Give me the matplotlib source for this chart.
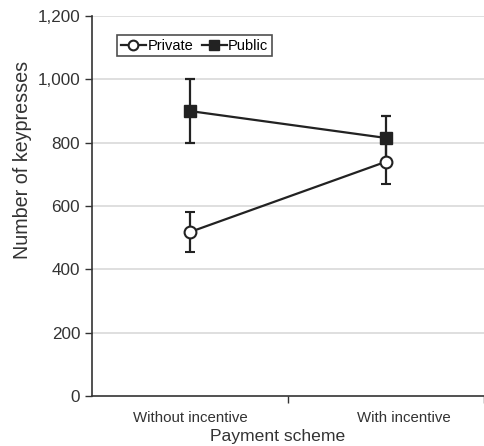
import matplotlib
matplotlib.use("Agg")
import matplotlib.pyplot as plt
from matplotlib.lines import Line2D
from matplotlib.ticker import FuncFormatter, FixedLocator, NullFormatter

plt.rcParams['font.family'] = ['Liberation Sans', 'DejaVu Sans']

schemes = ["Without incentive", "With incentive"]
private_mean = [518, 740]
private_err = [63, 70]
public_mean = [900, 815]
public_err = [100, 70]

xpos = [0.5, 1.5]
label_pos = [0.5, 1.59]
ink = '#222222'

fig = plt.figure(figsize=(4.84, 4.46), dpi=100)
ax = fig.add_axes([0.19, 0.112, 0.81, 0.852])

for y in range(200, 1400, 200):
    ax.axhline(y, color='#d9d9d9', lw=1.2, zorder=0)

ax.errorbar(xpos, public_mean, yerr=public_err, color=ink, lw=1.6,
            marker='s', ms=8.5, mfc=ink, mec=ink, capsize=3.5,
            capthick=1.6, zorder=3)
ax.errorbar(xpos, private_mean, yerr=private_err, color=ink, lw=1.6,
            marker='o', ms=8.5, mfc='white', mec=ink, mew=1.5,
            capsize=3.5, capthick=1.6, zorder=4)

ax.set_xlim(0, 2)
ax.set_ylim(0, 1200)
ax.set_yticks(range(0, 1400, 200))
ax.yaxis.set_major_formatter(FuncFormatter(lambda v, p: f"{int(v):,}"))

ax.xaxis.set_major_locator(FixedLocator([1, 2]))
ax.xaxis.set_major_formatter(NullFormatter())
ax.xaxis.set_minor_locator(FixedLocator(label_pos))
ax.set_xticklabels(schemes, minor=True)
ax.tick_params(axis='x', which='minor', length=0, pad=11, labelsize=10.8,
               colors='#333333')
ax.tick_params(axis='x', which='major', length=5, width=1, color='#333333')
ax.tick_params(axis='y', length=5, width=1, labelsize=12.3, color='#333333',
               labelcolor='#333333')

for s in ['top', 'right']:
    ax.spines[s].set_visible(False)
for s in ['left', 'bottom']:
    ax.spines[s].set_color('#333333')
    ax.spines[s].set_linewidth(1.2)

ax.set_xlabel("Payment scheme", fontsize=12.6, color='#333333')
ax.xaxis.set_label_coords(0.474, -0.087)
ax.set_ylabel("Number of keypresses", fontsize=14.2, color='#333333')
ax.yaxis.set_label_coords(-0.153, 0.621)

handles = [
    Line2D([], [], color=ink, lw=1.6, marker='o', ms=7, mfc='white',
           mec=ink, mew=1.5),
    Line2D([], [], color=ink, lw=1.6, marker='s', ms=7, mfc=ink, mec=ink),
]
leg = ax.legend(handles, ["Private", "Public"], loc='upper left',
                bbox_to_anchor=(0.065, 0.95), ncol=2, fontsize=10.5,
                frameon=True, fancybox=False, edgecolor=ink,
                handlelength=1.7, handletextpad=0.1, columnspacing=0.6,
                borderpad=0.25, borderaxespad=0.0)
leg.get_frame().set_linewidth(1.2)

fig.savefig("out.png", dpi=100)
